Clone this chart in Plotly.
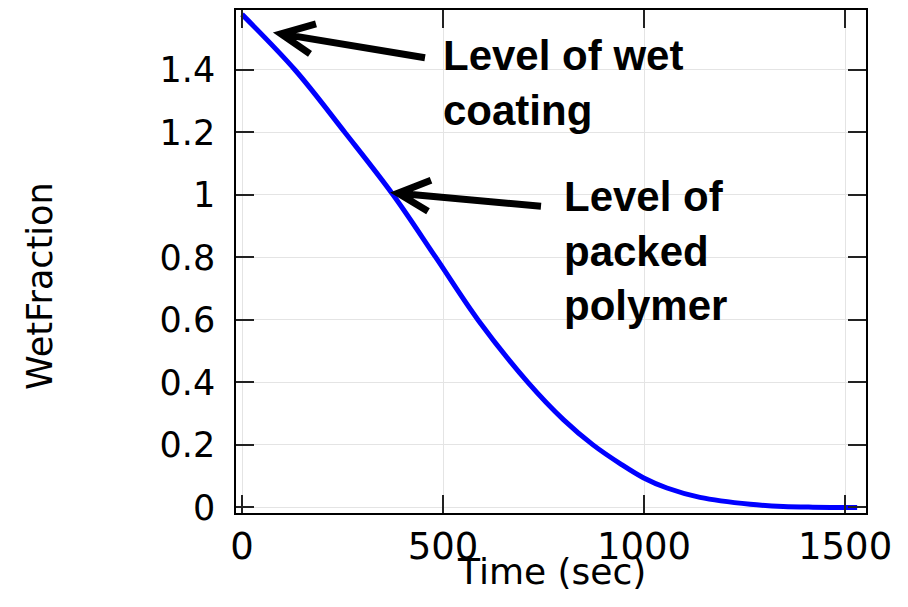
import plotly.graph_objects as go

# Wet fraction of the coating over drying time
time_sec = [0, 132, 256, 376, 482, 587, 711, 800, 873, 944, 998, 1057, 1139, 1264, 1346, 1420, 1530]
wet_fraction = [1.578, 1.4, 1.2, 1.0, 0.8, 0.6, 0.4, 0.28, 0.2, 0.137, 0.095, 0.062, 0.032, 0.01, 0.003, 0.0008, 0.0]

x_ticks = [0, 500, 1000, 1500]
x_tick_text = ["0", "500", "1000", "1500"]
y_ticks = [0, 0.2, 0.4, 0.6, 0.8, 1.0, 1.2, 1.4]
y_tick_text = ["0", "0.2", "0.4", "0.6", "0.8", "1", "1.2", "1.4"]

W, H = 908, 607
L, R, T, B = 236, 42, 8, 94
PW, PH = W - L - R, H - T - B


def px(x, y):
    """Figure pixel position -> paper coordinates."""
    return (x - L) / PW, (H - B - y) / PH


def arrow_path(tail, tip, arm1, arm2):
    pts = [px(*p) for p in (tail, tip, arm1, arm2)]
    (tx, ty), (hx, hy), (a1x, a1y), (a2x, a2y) = pts
    return (f"M {tx} {ty} L {hx} {hy} "
            f"M {a1x} {a1y} L {hx} {hy} L {a2x} {a2y}")


fig = go.Figure()
fig.add_trace(go.Scatter(
    x=time_sec, y=wet_fraction, mode="lines",
    line=dict(color="#0000ff", width=5, shape="spline", smoothing=1.0),
    showlegend=False, hoverinfo="x+y",
))

axis_common = dict(
    showline=True, linecolor="black", linewidth=1.5, mirror="ticks",
    ticks="inside", ticklen=18, tickwidth=1.5, tickcolor="#222",
    showgrid=True, gridcolor="#e4e4e4", gridwidth=1, zeroline=False,
)

fig.update_layout(
    width=W, height=H, autosize=False,
    margin=dict(l=L, r=R, t=T, b=B),
    plot_bgcolor="white", paper_bgcolor="white",
    xaxis=dict(range=[-15, 1552], tickvals=x_ticks, ticktext=x_tick_text,
               ticklabelstandoff=0,
               tickfont=dict(family="DejaVu Sans", size=37, color="black"),
               **axis_common),
    yaxis=dict(range=[-0.018, 1.592], tickvals=y_ticks, ticktext=y_tick_text,
               ticklabelstandoff=12,
               tickfont=dict(family="DejaVu Sans", size=35, color="black"),
               **axis_common),
)

# Axis titles
tx, ty = px(551, 594)
fig.add_annotation(text="Time (sec)", xref="paper", yref="paper", x=tx, y=ty,
                   xanchor="center", yanchor="bottom", showarrow=False,
                   font=dict(family="DejaVu Sans", size=36, color="black"))
yx, yy = px(40, 285)
fig.add_annotation(text="WetFraction", xref="paper", yref="paper", x=yx, y=yy,
                   xanchor="center", yanchor="middle", showarrow=False, textangle=-90,
                   font=dict(family="DejaVu Sans", size=35, color="black"))

# Callout labels
label_font = dict(family="Liberation Sans", size=42, color="black", weight="bold")
ax1, ay1 = px(441, 28)
fig.add_annotation(text="Level of wet<br>coating", xref="paper", yref="paper",
                   x=ax1, y=ay1, xanchor="left", yanchor="top", align="left",
                   showarrow=False, font=label_font)
ax2, ay2 = px(562, 170)
fig.add_annotation(text="Level of<br>packed<br>polymer", xref="paper", yref="paper",
                   x=ax2, y=ay2, xanchor="left", yanchor="top", align="left",
                   showarrow=False, font=label_font)

# Callout arrows
arrow_line = dict(color="black", width=7)
fig.add_shape(type="path", xref="paper", yref="paper", line=arrow_line,
              path=arrow_path((425, 56), (281, 32), (316, 22), (310, 52)))
fig.add_shape(type="path", xref="paper", yref="paper", line=arrow_line,
              path=arrow_path((541, 205), (398, 192), (431, 179), (428, 210)))

fig.write_html("out.html")
